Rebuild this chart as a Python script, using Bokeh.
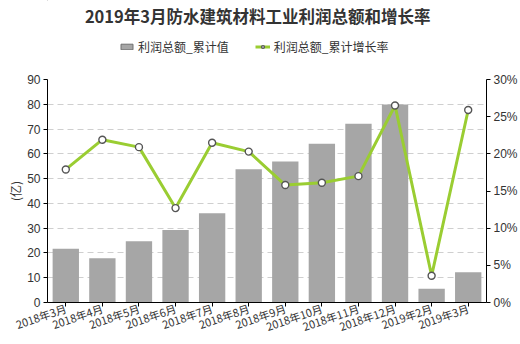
from bokeh.plotting import figure
from bokeh.layouts import column
from bokeh.models import (Range1d, FactorRange, LinearAxis, SingleIntervalTicker,
                          PrintfTickFormatter, Label, Legend, LegendItem)
from bokeh.embed import file_html
from bokeh.resources import INLINE

categories = ["2018年3月", "2018年4月", "2018年5月", "2018年6月", "2018年7月", "2018年8月",
              "2018年9月", "2018年10月", "2018年11月", "2018年12月", "2019年2月", "2019年3月"]
profit = [21.7, 17.9, 24.7, 29.3, 36.0, 53.8, 56.9, 64.1, 72.1, 79.9, 5.5, 12.2]
growth = [17.9, 21.9, 20.9, 12.7, 21.5, 20.3, 15.8, 16.1, 17.0, 26.5, 3.6, 25.9]

title_text = "2019年3月防水建筑材料工业利润总额和增长率"
bar_name = "利润总额_累计值"
line_name = "利润总额_累计增长率"
y_label = "(亿)"

FONT = "Noto Sans CJK SC"
NUMFONT = "Liberation Sans"
BAR = "#a6a6a6"
GREEN = "#9acd32"
BAR_STYLE = dict(fill_color=BAR)
LINE_STYLE = dict(line_color=GREEN, line_width=3)
PT_STYLE = dict(size=7, fill_color="white", line_color="#555555", line_width=1.4)

# ---------- header: title + legend ----------
HEAD_H = 70
h = figure(width=520, height=HEAD_H, x_range=Range1d(0, 520), y_range=Range1d(HEAD_H, 0),
           x_axis_type=None, y_axis_type=None, output_backend="svg", toolbar_location=None,
           min_border=0)
h.title = None
h.outline_line_color = None
h.xgrid.visible = False
h.ygrid.visible = False

h.add_layout(Label(x=249, y=15, text=title_text, text_font=FONT, text_font_size="16.5px",
                   text_font_style="bold", text_color="#333333",
                   text_align="center", text_baseline="middle"))

# off-canvas proxies so the legend can draw its swatches
lg_bar = h.vbar(x=[-1000], top=[-1000], width=1, line_color="#707070", **BAR_STYLE)
lg_line = h.line(x=[-1000, -1001], y=[-1000, -1000], **LINE_STYLE)
lg_pt = h.scatter(x=[-1000], y=[-1000], **PT_STYLE)
legend = Legend(items=[LegendItem(label=bar_name, renderers=[lg_bar]),
                       LegendItem(label=line_name, renderers=[lg_line, lg_pt])],
                orientation="horizontal", location=(72, 15),
                glyph_width=15, glyph_height=7, label_standoff=4, spacing=26,
                padding=0, margin=0,
                label_text_font=FONT, label_text_font_size="12px",
                label_text_color="#333333",
                border_line_alpha=0, background_fill_alpha=0)
h.add_layout(legend, "center")

# ---------- main chart ----------
p = figure(width=520, height=344 - HEAD_H,
           x_range=FactorRange(*categories, range_padding=0),
           y_range=Range1d(0, 90),
           output_backend="svg", toolbar_location=None,
           min_border_left=47, min_border_right=28,
           min_border_top=9, min_border_bottom=41)
p.title = None
p.outline_line_color = None

p.extra_y_ranges = {"pct": Range1d(0, 30)}

p.vbar(x=categories, top=profit, width=0.72, line_color=None, **BAR_STYLE)
p.line(x=categories, y=growth, y_range_name="pct", **LINE_STYLE)
p.scatter(x=categories, y=growth, y_range_name="pct", **PT_STYLE)

p.yaxis.ticker = SingleIntervalTicker(interval=10)
p.yaxis.axis_label = y_label
p.yaxis.axis_label_text_font = FONT
p.yaxis.axis_label_text_font_style = "normal"
p.yaxis.axis_label_text_font_size = "12px"
p.yaxis.axis_label_text_color = "#333333"
p.yaxis.axis_label_standoff = 0

right = LinearAxis(y_range_name="pct", ticker=SingleIntervalTicker(interval=5),
                   formatter=PrintfTickFormatter(format="%d%%"))
p.add_layout(right, "right")

for ax in [p.xaxis[0], p.yaxis[0], right]:
    ax.axis_line_color = "black"
    ax.major_tick_line_color = "black"
    ax.minor_tick_line_color = None
    ax.major_tick_in = 0
    ax.major_tick_out = 4
    ax.major_label_text_font = NUMFONT
    ax.major_label_text_font_size = "12px"
    ax.major_label_text_color = "#333333"
    ax.major_label_standoff = 3

p.xaxis.major_label_orientation = 0.33
p.xaxis.major_label_standoff = 1
p.xaxis.major_label_text_font = FONT
p.xaxis.major_label_text_font_size = "11px"

p.xgrid.grid_line_color = None
p.ygrid.grid_line_color = "#cfcfcf"
p.ygrid.grid_line_dash = "6 4"

layout = column(h, p, spacing=0)
open("out.html", "w").write(file_html(layout, INLINE))
